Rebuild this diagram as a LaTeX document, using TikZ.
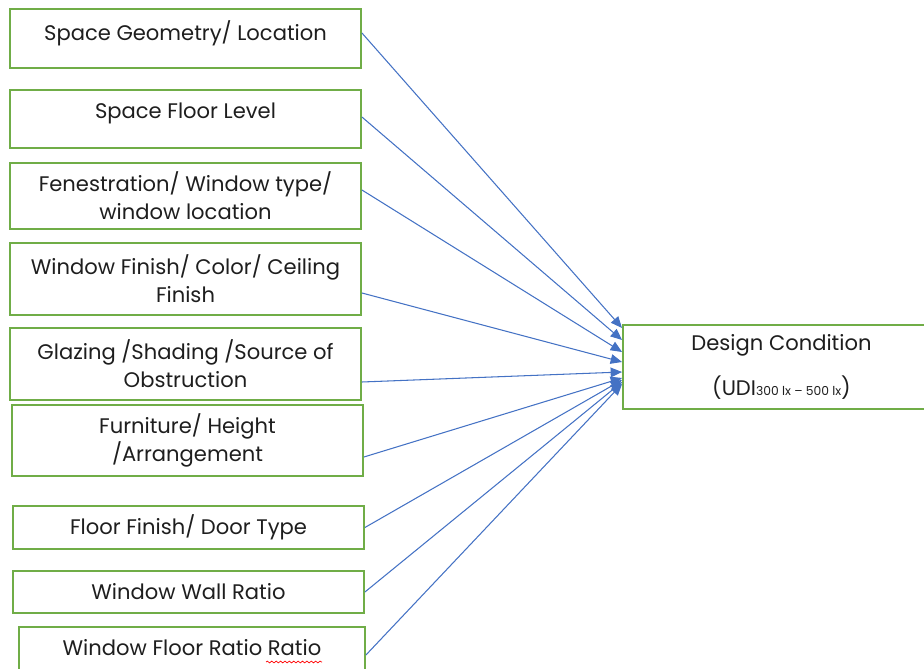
\documentclass[tikz,border=0pt]{standalone}
\usepackage{fontspec}
\setmainfont{Poppins}
\usepackage{tikz}
\usetikzlibrary{positioning}
\usetikzlibrary{shapes,arrows.meta,decorations.pathmorphing}
\definecolor{boxgreen}{RGB}{112,173,71}
\definecolor{arrowblue}{RGB}{68,114,196}
\definecolor{txtgrey}{RGB}{30,30,30}
\tikzset{%
  factor/.style = {draw=boxgreen, line width=1.1pt, rectangle, minimum width=7.02cm,
    align=center, text=txtgrey, font=\fontsize{12}{16}\selectfont},
  target/.style = {factor, minimum width=6.34cm, minimum height=1.68cm}, % Output box
  lift/.style   = {text height=9pt, text depth=#1}, % raise single line
  link/.style   = {draw=arrowblue, line width=0.6pt}
}

\begin{document}
\begin{tikzpicture}[x=0.02cm, y=-0.02cm, >={Triangle[length=6.5pt, width=5.5pt]}]
  \useasboundingbox (0,0) rectangle (924,669);
  \clip (0,0) rectangle (924,669);

  \draw node at (185.5,38.5) [factor, minimum height=1.18cm, lift=7.2pt] (geometry) {Space Geometry/ Location};
  \draw node at (185.5,119) [factor, minimum height=1.16cm, lift=10pt] (floorlevel) {Space Floor Level};
  \draw node at (185.5,196) [factor, minimum height=1.32cm] (fenestration) {Fenestration/ Window type/\\ window location};
  \draw node at (185.5,279) [factor, minimum height=1.44cm] (finish) {Window Finish/ Color/ Ceiling\\ Finish};
  \draw node at (185.5,364) [factor, minimum height=1.44cm] (glazing) {Glazing /Shading /Source of\\ Obstruction};
  \draw node at (187.5,440.5) [factor, minimum height=1.42cm] (furniture) {Furniture/ Height\\ /Arrangement};
  \draw node at (188.5,527.5) [factor, minimum height=0.86cm, lift=1.2pt] (floorfinish) {Floor Finish/ Door Type};
  \draw node at (188.5,592) [factor, minimum height=0.84cm, lift=0pt] (wallratio) {Window Wall Ratio};
  \draw node at (192,655) [factor, minimum width=6.92cm, minimum height=1.12cm, lift=9pt] (floorratio) {Window Floor Ratio Ratio};

  \draw node at (781.5,367) [target] (design) {Design Condition\\[10pt] (UDI{\fontsize{7}{8}\selectfont 300 lx – 500 lx})};

  % spell check mark
  \draw[red, line width=0.4pt, decorate, decoration={snake, amplitude=0.5pt, segment length=2.5pt}] (266,662) -- (322,662);

  \draw[link, ->] ([yshift=0.11cm]geometry.east) -- ([yshift=0.78cm]design.west);
  \draw[link, ->] ([yshift=0.04cm]floorlevel.east) -- ([yshift=0.54cm]design.west);
  \draw[link, ->] ([yshift=0.12cm]fenestration.east) -- ([yshift=0.30cm]design.west);
  \draw[link, ->] ([yshift=-0.28cm]finish.east) -- ([yshift=0.10cm]design.west);
  \draw[link, ->] ([yshift=-0.36cm]glazing.east) -- ([yshift=-0.10cm]design.west);
  \draw[link, ->] ([yshift=-0.33cm]furniture.east) -- ([yshift=-0.22cm]design.west);
  \draw[link, ->] (floorfinish.east) -- ([yshift=-0.26cm]design.west);
  \draw[link, ->] (wallratio.east) -- ([yshift=-0.30cm]design.west);
  \draw[link, ->] (floorratio.east) -- ([yshift=-0.34cm]design.west);

\end{tikzpicture}
\end{document}
